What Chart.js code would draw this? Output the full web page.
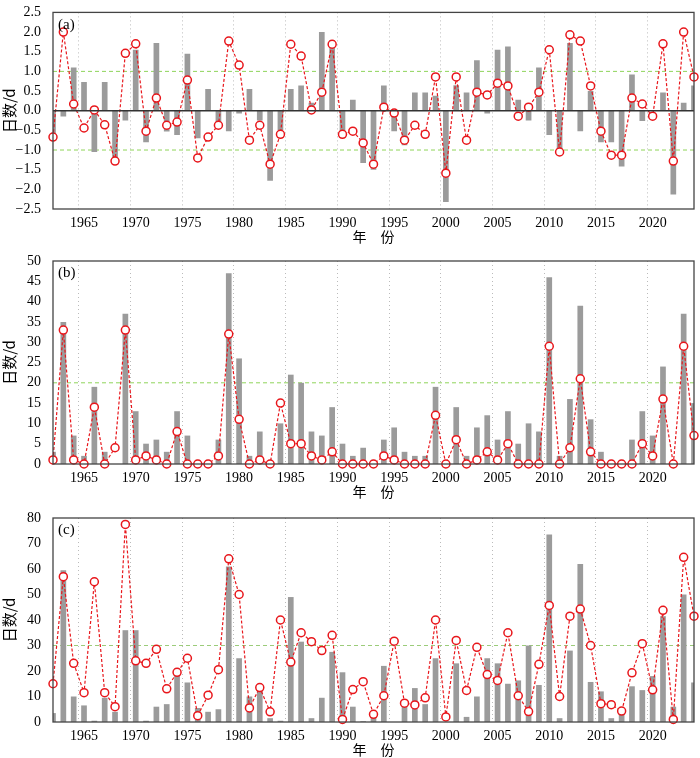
<!DOCTYPE html>
<html><head><meta charset="utf-8">
<script src="https://cdn.jsdelivr.net/npm/chart.js@4"></script>
<style>
body{margin:0;background:#fff;width:700px;height:758px;position:relative;overflow:hidden}
canvas{position:absolute;left:0}
</style></head><body>
<canvas id="ca" style="top:0" width="700" height="245"></canvas>
<canvas id="cb" style="top:245px" width="700" height="255"></canvas>
<canvas id="cc" style="top:500px" width="700" height="258"></canvas>
<script>
const years = []; for (let y = 1962; y <= 2024; y++) years.push(String(y));
const barsA = [-0.6,-0.15,1.1,0.73,-1.05,0.73,-1.2,-0.25,1.55,-0.8,1.72,-0.53,-0.62,1.45,-0.7,0.55,-0.35,-0.52,-0.07,0.55,-0.25,-1.78,-0.5,0.55,0.64,0.2,2.0,1.8,-0.55,0.28,
-1.33,-1.5,0.64,-0.52,-0.88,0.46,0.46,0.38,-2.32,0.65,0.46,1.28,-0.07,1.55,1.63,0.28,-0.25,1.1,-0.62,-1.0,1.72,-0.52,0.5,-0.8,-0.8,-1.42,0.92,-0.26,0,0.46,-2.13,0.2,0.64];
const lineA = [-0.67,2.0,0.17,-0.44,0.02,-0.36,-1.28,1.46,1.7,-0.52,0.32,-0.37,-0.29,0.78,-1.2,-0.67,-0.37,1.77,1.16,-0.75,-0.37,-1.36,-0.6,1.69,1.39,0.02,0.47,1.69,-0.6,-0.52,
-0.82,-1.36,0.09,-0.06,-0.75,-0.37,-0.6,0.86,-1.59,0.86,-0.75,0.47,0.4,0.7,0.63,-0.14,0.09,0.47,1.55,-1.05,1.93,1.77,0.63,-0.52,-1.13,-1.13,0.32,0.17,-0.14,1.7,-1.28,2.0,0.86];
const barsB = [3,35,7,2,19,3,0,37,13,5,6,3,13,7,1,1,6,47,26,2,8,0,10,22,20,8,7,14,5,2,
4,1,6,9,3,2,2,19,0,14,2,9,12,6,13,5,10,8,46,2,16,39,11,3,1,1,6,13,7,24,0,37,15];
const lineB = [1,33,1,0,14,0,4,33,1,2,1,0,8,0,0,0,2,32,11,0,1,0,15,5,5,2,1,3,0,0,
0,0,2,1,0,0,0,12,0,6,0,1,3,1,5,0,0,0,29,0,4,21,3,0,0,0,0,5,2,16,0,29,7];
const barsC = [3.5,59.5,10,6.5,0.5,9.5,4,36,36,0.5,6,7,21,15.5,5.5,4,5,61,25,10,13,1.5,0.5,49,31.5,1.5,9.5,27.5,19.5,6,
0.3,3,22,0,7.5,13.3,7,25,0,23,2,10,25,23,15,16.3,30,14.5,73.5,1.5,28,62,15.7,12,1.5,4,14,12.5,18,41.5,6,50,15.5];
const lineC = [15,57,23,11.5,55,11.5,6,77.5,24,23,28.5,13,19.5,25,2.5,10.5,20.5,64,50,5.5,13.5,4,40,23.5,35,31.5,28,34,1,12.7,
15.8,3,10.3,31.7,7.4,6.7,9.5,40,2,32,12.4,29.3,18.6,16.3,35,10.3,4.1,22.6,45.7,10,41.5,44.3,30,7.2,6.8,4.3,19.3,30.7,12.6,43.8,1,64.6,41.5];

const serif = '"Liberation Serif","DejaVu Serif",serif';
const cjk = '"Noto Sans CJK SC",sans-serif';

function make(id, bars, line, opt) {
  const refPlugin = {
    id: 'refs',
    beforeDatasetsDraw(c) {
      const {ctx, chartArea: a, scales: {y}} = c;
      ctx.save();
      opt.refs.forEach(v => {
        ctx.strokeStyle = opt.refColor; ctx.lineWidth = 1; ctx.setLineDash([4, 3]);
        ctx.beginPath(); ctx.moveTo(a.left, y.getPixelForValue(v)); ctx.lineTo(a.right, y.getPixelForValue(v)); ctx.stroke();
      });
      ctx.restore();
    },
    afterDatasetsDraw(c) {
      const {ctx, chartArea: a, scales: {y}} = c;
      ctx.save();
      if (opt.zero) {
        ctx.strokeStyle = '#333'; ctx.lineWidth = 1.5; ctx.setLineDash([]);
        ctx.beginPath(); ctx.moveTo(a.left, y.getPixelForValue(0)); ctx.lineTo(a.right, y.getPixelForValue(0)); ctx.stroke();
      }
      ctx.strokeStyle = '#444'; ctx.lineWidth = 1.3; ctx.setLineDash([]);
      ctx.strokeRect(a.left, a.top, a.right - a.left, a.bottom - a.top);
      ctx.fillStyle = '#000'; ctx.font = '15px ' + serif; ctx.textAlign = 'left'; ctx.textBaseline = 'top';
      ctx.fillText(opt.tag, a.left + 5, a.top + 5);
      ctx.restore();
    }
  };
  new Chart(document.getElementById(id), {
    data: {
      labels: years,
      datasets: [
        {type: 'line', data: line, borderColor: '#e8161b', borderWidth: 1.2, borderDash: [3, 2],
         pointRadius: 4, pointBackgroundColor: '#fff', pointBorderColor: '#e8161b', pointBorderWidth: 1.5, tension: 0, order: 0, clip: 6},
        {type: 'bar', data: bars, backgroundColor: '#9b9b9b', barPercentage: 0.55, categoryPercentage: 1, order: 1}
      ]
    },
    options: {
      responsive: false, animation: false, devicePixelRatio: 1,
      layout: {padding: {top: opt.padTop, right: 2, left: 0, bottom: 0}},
      plugins: {legend: {display: false}, tooltip: {enabled: false}},
      scales: {
        x: {
          offset: false,
          afterFit: s => { s.height = 36; },
          grid: {drawTicks: false, color: c => { const y = 1962 + c.index; return (y % 5 === 0) ? '#bbb' : 'rgba(0,0,0,0)'; }, borderDash: [1, 3], lineWidth: 1},
          border: {display: false, dash: [1, 3]},
          ticks: {autoSkip: false, maxRotation: 0, color: '#000', font: {family: serif, size: 14}, padding: 6,
                  callback: (v, i) => { const y = 1962 + i; return y % 5 === 0 ? String(y) : ''; }},
          title: {display: true, text: '年　份', color: '#000', font: {family: cjk, size: 14}, padding: {top: 0, bottom: 0}}
        },
        y: {
          min: opt.min, max: opt.max,
          afterFit: s => { s.width = 53; },
          grid: {display: false},
          border: {display: false},
          ticks: {stepSize: opt.step, autoSkip: false, color: '#000', font: {family: serif, size: 14}, padding: 4,
                  callback: v => opt.dec ? v.toFixed(1).replace('-', '\u2212') : v},
          title: {display: true, text: '日数/d', color: '#000', font: {family: cjk, size: 15}, padding: {top: 0, bottom: 2}}
        }
      }
    },
    plugins: [refPlugin]
  });
}
make('ca', barsA, lineA, {min: -2.5, max: 2.5, step: 0.5, dec: true, refs: [1, -1], refColor: '#8fd45a', zero: true, tag: '(a)', padTop: 5});
make('cb', barsB, lineB, {min: 0, max: 50, step: 5, dec: false, refs: [20], refColor: '#8fd45a', zero: false, tag: '(b)', padTop: 16});
make('cc', barsC, lineC, {min: 0, max: 80, step: 10, dec: false, refs: [30], refColor: '#9ccc7a', zero: false, tag: '(c)', padTop: 18});
</script>
</body></html>
